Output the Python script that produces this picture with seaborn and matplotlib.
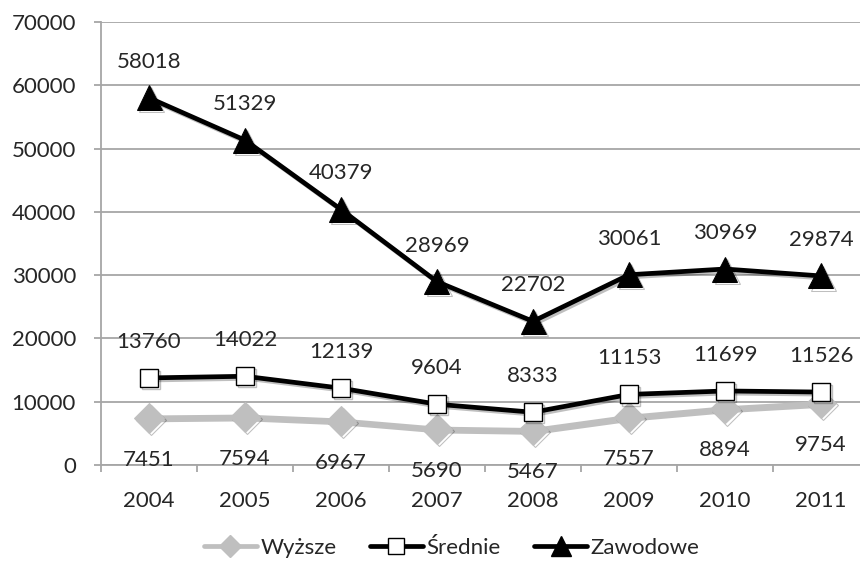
import matplotlib
matplotlib.use("Agg")
import matplotlib.pyplot as plt
import matplotlib.patheffects as pe
from matplotlib.lines import Line2D
import numpy as np
import pandas as pd
import seaborn as sns

# data
years = ["2004", "2005", "2006", "2007", "2008", "2009", "2010", "2011"]
wyzsze = [7451, 7594, 6967, 5690, 5467, 7557, 8894, 9754]
srednie = [13760, 14022, 12139, 9604, 8333, 11153, 11699, 11526]
zawodowe = [58018, 51329, 40379, 28969, 22702, 30061, 30969, 29874]

sns.set_style("white")
plt.rcParams["font.family"] = ["Lato", "DejaVu Sans"]

df = pd.DataFrame({"rok": np.arange(len(years)),
                   "Wyższe": wyzsze, "Średnie": srednie, "Zawodowe": zawodowe})

fig = plt.figure(figsize=(8.6, 5.69), dpi=100)
ax = fig.add_axes([101 / 860, (569 - 465) / 569, 768 / 860, 443 / 569])

shadow = [pe.SimpleLineShadow(offset=(1.5, -1.5), alpha=0.25, shadow_color="black"), pe.Normal()]

# Wyższe - grey diamonds
sns.lineplot(data=df, x="rok", y="Wyższe", ax=ax, color="#bfbfbf", lw=3.4,
             marker="D", markersize=15, markeredgecolor="#bfbfbf", zorder=3)
# Średnie - white squares
sns.lineplot(data=df, x="rok", y="Średnie", ax=ax, color="black", lw=3.4,
             marker="s", markersize=13, markerfacecolor="white",
             markeredgecolor="black", markeredgewidth=1.0, zorder=4)
# Zawodowe - black triangles
sns.lineplot(data=df, x="rok", y="Zawodowe", ax=ax, color="black", lw=3.4,
             marker="^", markersize=18, markeredgecolor="black", zorder=5)
for ln in ax.get_lines():
    ln.set_path_effects(shadow)

fs = 16
for i in range(len(years)):
    ax.annotate(str(zawodowe[i]), (i, zawodowe[i]), xytext=(0, 26), textcoords="offset points",
                ha="center", va="center", fontsize=fs)
    ax.annotate(str(srednie[i]), (i, srednie[i]), xytext=(0, 26), textcoords="offset points",
                ha="center", va="center", fontsize=fs)
    ax.annotate(str(wyzsze[i]), (i, wyzsze[i]), xytext=(0, -30), textcoords="offset points",
                ha="center", va="center", fontsize=fs)

ax.set_xlim(-0.5, 7.5)
ax.set_ylim(0, 70000)
ax.set_yticks(range(0, 70001, 10000))
ax.set_xticks(range(len(years)))
ax.set_xticklabels(years)
ax.set_xticks(np.arange(-0.5, 7.6, 1), minor=True)
ax.set_xlabel("")
ax.set_ylabel("")

grid_c = "#a6a6a6"
ax.grid(axis="y", color=grid_c, lw=1.3)
ax.set_axisbelow(True)
for s in ["top", "right"]:
    ax.spines[s].set_visible(False)
for s in ["left", "bottom"]:
    ax.spines[s].set_color(grid_c)
    ax.spines[s].set_linewidth(1.3)

ax.tick_params(axis="y", which="major", left=True, length=5, width=1.3, color=grid_c,
               pad=13, labelsize=fs)
ax.tick_params(axis="x", which="major", bottom=False, length=0, pad=19, labelsize=fs)
ax.tick_params(axis="x", which="minor", bottom=True, length=5, width=1.3, color=grid_c)

handles = [
    Line2D([], [], color="#bfbfbf", lw=3.4, marker="D", markersize=11, markeredgecolor="#bfbfbf"),
    Line2D([], [], color="black", lw=3.4, marker="s", markersize=11, markerfacecolor="white",
           markeredgecolor="black"),
    Line2D([], [], color="black", lw=3.4, marker="^", markersize=14),
]
fig.legend(handles, ["Wyższe", "Średnie", "Zawodowe"], loc="center", bbox_to_anchor=(0.525, 0.037),
           ncol=3, frameon=False, fontsize=fs, handlelength=2.4, handletextpad=0.15,
           columnspacing=1.5)

fig.savefig("out.png", dpi=100)
